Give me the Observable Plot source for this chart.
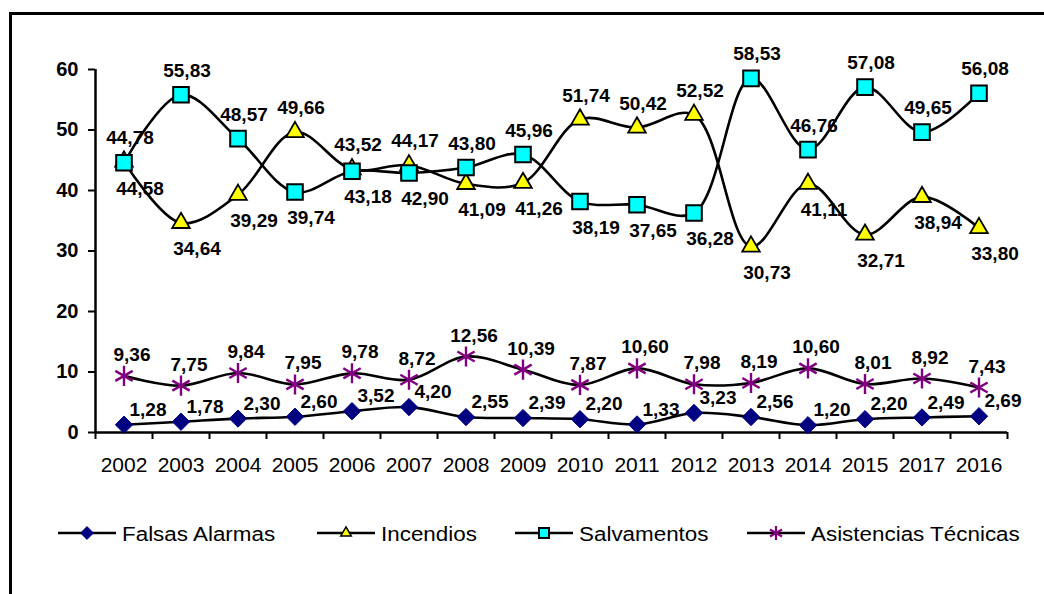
<!DOCTYPE html>
<html><head><meta charset="utf-8">
<script src="https://cdn.jsdelivr.net/npm/d3@7"></script>
<script src="https://cdn.jsdelivr.net/npm/@observablehq/plot@0.6"></script>
<style>
body{margin:0;background:#fff;font-family:"Liberation Sans",Arial,sans-serif;}
#frame{position:absolute;left:9px;top:12px;width:1100px;height:700px;border-left:3px solid #000;border-top:3px solid #000;}
#chart{position:absolute;left:0;top:0;}
#legend{position:absolute;left:0;top:518px;width:1044px;height:32px;}
.item{position:absolute;top:0;height:32px;display:flex;align-items:center;white-space:nowrap;}
.item svg{display:block;}
.item span{font-size:20px;display:inline-block;transform:scaleX(1.12);transform-origin:left center;color:#000;margin-left:6px;}
</style></head><body>
<div id="frame"></div><div id="chart"></div><div id="legend"></div>
<script>
const years = ["2002","2003","2004","2005","2006","2007","2008","2009","2010","2011","2012","2013","2014","2015","2017","2016"];
const falsasAlarmas = [1.28,1.78,2.30,2.60,3.52,4.20,2.55,2.39,2.20,1.33,3.23,2.56,1.20,2.20,2.49,2.69];
const incendios = [44.78,34.64,39.29,49.66,43.52,44.17,41.09,41.26,51.74,50.42,52.52,30.73,41.11,32.71,38.94,33.80];
const salvamentos = [44.58,55.83,48.57,39.74,43.18,42.90,43.80,45.96,38.19,37.65,36.28,58.53,46.76,57.08,49.65,56.08];
const asistencias = [9.36,7.75,9.84,7.95,9.78,8.72,12.56,10.39,7.87,10.60,7.98,8.19,10.60,8.01,8.92,7.43];
const seriesNames = ["Falsas Alarmas","Incendios","Salvamentos","Asistencias Técnicas"];
const yTicks = [0,10,20,30,40,50,60];

const n = years.length;
const idx = d3.range(n);
const seriesValues = [falsasAlarmas, incendios, salvamentos, asistencias];
const rows = [];
seriesNames.forEach((s, k) => idx.forEach(i => rows.push({series: s, k, i, value: seriesValues[k][i]})));
const fmt = v => v.toFixed(2).replace(".", ",");
const bySeries = k => rows.filter(d => d.k === k);
// upper pair: larger label above, smaller below
const pair = rows.filter(d => d.k === 1 || d.k === 2);
const isTop = d => {
  const other = seriesValues[d.k === 1 ? 2 : 1][d.i];
  return d.value > other;
};
const xDomain = [-0.5, n - 0.5];
const font = '"Liberation Sans", Arial, sans-serif';

const chart = Plot.plot({
  width: 1044, height: 490,
  marginLeft: 95, marginRight: 37, marginTop: 69, marginBottom: 58,
  x: {type: "linear", domain: xDomain, axis: null},
  y: {domain: [yTicks[0], yTicks[yTicks.length - 1]], axis: null},
  style: {fontFamily: font, fontSize: "20px", color: "#000", background: "transparent", overflow: "visible"},
  marks: [
    Plot.axisY({ticks: yTicks, tickSize: 7, tickPadding: 10, fontWeight: "bold", fontSize: 20, strokeWidth: 2, label: null}),
    Plot.axisX({ticks: d3.range(n + 1).map(i => i - 0.5), tickSize: 7, tickFormat: () => "", strokeWidth: 2, label: null}),
    Plot.axisX({ticks: idx, tickSize: 0, tickPadding: 25, tickFormat: i => years[i], fontSize: 21, label: null}),
    Plot.ruleY([yTicks[0]], {stroke: "#000", strokeWidth: 2.5}),
    Plot.ruleX([xDomain[0]], {stroke: "#000", strokeWidth: 2.5}),
    Plot.lineY(rows, {x: "i", y: "value", z: "series", stroke: "#000", strokeWidth: 2.6, curve: "catmull-rom"}),
    Plot.dot(bySeries(0), {x: "i", y: "value", symbol: "diamond2", r: 7.8, fill: "#000080", stroke: "#000080", strokeWidth: 1}),
    Plot.dot(bySeries(1), {x: "i", y: "value", symbol: "triangle2", r: 8.4, fill: "#FFFF00", stroke: "#000", strokeWidth: 1.8}),
    Plot.dot(bySeries(2), {x: "i", y: "value", symbol: "square", r: 8.8, fill: "#00FFFF", stroke: "#000", strokeWidth: 2}),
    Plot.dot(bySeries(3), {x: "i", y: "value", symbol: "asterisk", r: 9.5, stroke: "#800080", strokeWidth: 2.4}),
    Plot.text(bySeries(0), {x: "i", y: "value", text: d => fmt(d.value), dx: 24, dy: -15, fontWeight: "bold", fontSize: 19, fill: "#000"}),
    Plot.text(bySeries(3), {x: "i", y: "value", text: d => fmt(d.value), dx: 8, dy: -21, fontWeight: "bold", fontSize: 19, fill: "#000"}),
    Plot.text(pair.filter(isTop), {x: "i", y: "value", text: d => fmt(d.value), dx: 6, dy: -24, fontWeight: "bold", fontSize: 19, fill: "#000"}),
    Plot.text(pair.filter(d => !isTop(d)), {x: "i", y: "value", text: d => fmt(d.value), dx: 16, dy: 26, fontWeight: "bold", fontSize: 19, fill: "#000"})
  ]
});
document.getElementById("chart").appendChild(chart);

// legend
const legendStyles = [
  {sym: d3.symbolDiamond2, size: 105, fill: "#000080", stroke: "#000080", sw: 1},
  {sym: d3.symbolTriangle2, size: 80, fill: "#FFFF00", stroke: "#000", sw: 1.5},
  {sym: d3.symbolSquare, size: 100, fill: "#00FFFF", stroke: "#000", sw: 2},
  {sym: d3.symbolAsterisk, size: 135, fill: "none", stroke: "#800080", sw: 2.2}
];
const legendLeft = [58, 317, 515, 747];
const legend = d3.select("#legend");
seriesNames.forEach((name, k) => {
  const st = legendStyles[k];
  const item = legend.append("div").attr("class", "item").style("left", legendLeft[k] + "px");
  const svg = item.append("svg").attr("width", 58).attr("height", 32);
  svg.append("line").attr("x1", 0).attr("x2", 58).attr("y1", 15).attr("y2", 15).attr("stroke", "#000").attr("stroke-width", 2.6);
  svg.append("path").attr("transform", "translate(29,15)").attr("d", d3.symbol(st.sym, st.size)())
    .attr("fill", st.fill).attr("stroke", st.stroke).attr("stroke-width", st.sw);
  item.append("span").text(name);
});
</script>
</body></html>
